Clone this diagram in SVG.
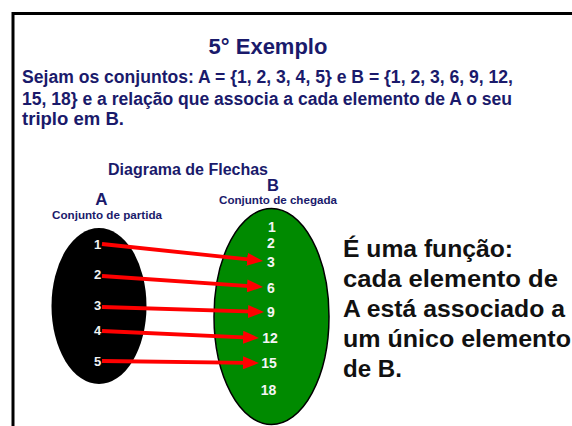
<svg xmlns="http://www.w3.org/2000/svg" width="572" height="426" viewBox="0 0 572 426">
<style>
.navy{fill:#1a1a6b;font-family:"Liberation Sans",Arial,sans-serif;font-weight:bold}
.blk{fill:#111;font-family:"Liberation Sans",Arial,sans-serif;font-weight:bold;font-size:23px}
.dA{fill:#f2f2f2;font-family:"Liberation Sans",Arial,sans-serif;font-weight:bold;font-size:13px;text-anchor:middle}
.dB{fill:#f4f4f4;font-family:"Liberation Sans",Arial,sans-serif;font-weight:bold;font-size:14px;text-anchor:middle}
.arr{stroke:#ff0000;stroke-width:3.8;fill:none;marker-end:url(#head)}
</style>
<defs>
<marker id="head" viewBox="0 0 16 13" markerUnits="userSpaceOnUse" markerWidth="16" markerHeight="13" refX="6" refY="6.5" orient="auto">
<path d="M0,0 L16,6.5 L0,13 z" fill="#ff0000"/>
</marker>
</defs>
<rect width="572" height="426" fill="#ffffff"/>
<path d="M13,426 V13.5 H572" fill="none" stroke="#000" stroke-width="3"/>
<g id="title">
<text class="navy" x="268" y="54" font-size="22" text-anchor="middle">5° Exemplo</text>
</g>
<g id="statement">
<text class="navy" x="22" y="83" font-size="17.5" textLength="491" lengthAdjust="spacingAndGlyphs">Sejam os conjuntos: A = {1, 2, 3, 4, 5} e B = {1, 2, 3, 6, 9, 12,</text>
<text class="navy" x="22" y="105" font-size="17.5" textLength="490" lengthAdjust="spacingAndGlyphs">15, 18} e a relação que associa a cada elemento de A o seu</text>
<text class="navy" x="22" y="125" font-size="17.5" textLength="102" lengthAdjust="spacingAndGlyphs">triplo em B.</text>
</g>
<g id="diagram-title">
<text class="navy" x="108" y="175" font-size="16" textLength="160" lengthAdjust="spacingAndGlyphs">Diagrama de Flechas</text>
</g>
<g id="setA">
<text class="navy" x="101.5" y="205" font-size="17" text-anchor="middle">A</text>
<text class="navy" x="52" y="219" font-size="11" textLength="110" lengthAdjust="spacingAndGlyphs">Conjunto de partida</text>
<ellipse cx="99" cy="306" rx="47.5" ry="78" fill="#000"/>
<text class="dA" x="97.5" y="249">1</text>
<text class="dA" x="97.5" y="279">2</text>
<text class="dA" x="97.5" y="310">3</text>
<text class="dA" x="97.5" y="335">4</text>
<text class="dA" x="97.5" y="366">5</text>
</g>
<g id="setB">
<text class="navy" x="273" y="191" font-size="16.5" text-anchor="middle">B</text>
<text class="navy" x="219" y="204" font-size="10.5" textLength="118" lengthAdjust="spacingAndGlyphs">Conjunto de chegada</text>
<ellipse cx="271.5" cy="316.5" rx="57.5" ry="108" fill="#008a00" stroke="#000" stroke-width="1.5"/>
<text class="dB" x="272" y="232">1</text>
<text class="dB" x="271" y="248">2</text>
<text class="dB" x="271" y="267">3</text>
<text class="dB" x="271" y="293">6</text>
<text class="dB" x="271" y="317">9</text>
<text class="dB" x="270" y="343">12</text>
<text class="dB" x="269" y="368">15</text>
<text class="dB" x="268.5" y="395">18</text>
</g>
<g id="connectors">
<line class="arr" x1="102" y1="244" x2="253.06" y2="259.95"/>
<line class="arr" x1="102" y1="276" x2="253.02" y2="286.32"/>
<line class="arr" x1="102" y1="307" x2="254" y2="311.7"/>
<line class="arr" x1="102" y1="331" x2="249" y2="337.55"/>
<line class="arr" x1="102" y1="361" x2="249" y2="362.87"/>
</g>
<g id="conclusion" xml:space="preserve">
<text class="blk" x="343" y="257" textLength="170" lengthAdjust="spacingAndGlyphs">É uma função:</text>
<text class="blk" x="343" y="287" textLength="215" lengthAdjust="spacingAndGlyphs">cada elemento  de</text>
<text class="blk" x="343" y="317" textLength="222" lengthAdjust="spacingAndGlyphs">A está associado a</text>
<text class="blk" x="343" y="347" textLength="228" lengthAdjust="spacingAndGlyphs">um único elemento</text>
<text class="blk" x="343" y="377" textLength="59" lengthAdjust="spacingAndGlyphs">de B.</text>
</g>
</svg>
